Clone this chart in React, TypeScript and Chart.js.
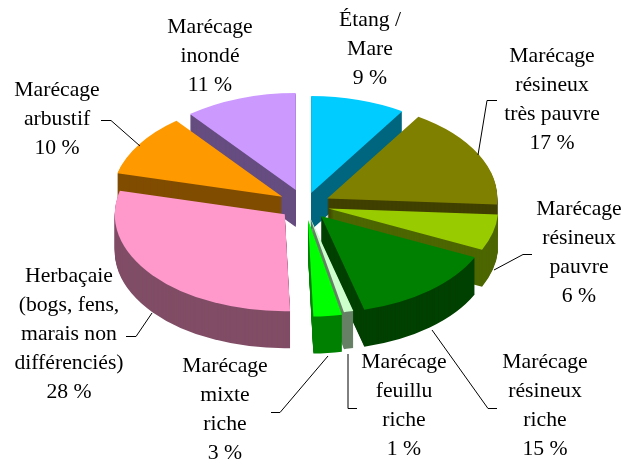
import { useEffect, useRef } from "react";
import { Chart, registerables } from "chart.js";

Chart.register(...registerables);

const categories = [
  "Étang / Mare",
  "Marécage résineux très pauvre",
  "Marécage résineux pauvre",
  "Marécage résineux riche",
  "Marécage feuillu riche",
  "Marécage mixte riche",
  "Herbaçaie (bogs, fens, marais non différenciés)",
  "Marécage arbustif",
  "Marécage inondé",
];
const sliceValues = [9, 17, 6, 13.9, 0.9, 2.7, 29.4, 10.4, 10.7];
const explode = [22, 25, 24, 25, 22, 26, 26, 27, 28];
const topColors = ["#00CCFF", "#808000", "#99CC00", "#008000", "#CCFFCC", "#00FF00", "#FF99CC", "#FF9900", "#CC99FF"];
const sideColors = ["#00667F", "#404000", "#4D6600", "#004000", "#668066", "#008000", "#804D66", "#804D00", "#664D80"];
const paintOrder = [0, 8, 7, 1, 2, 6, 3, 4, 5];

const labelBlocks: { x: number; y: number; lines: string[] }[] = [
  { x: 370, y: 20, lines: ["Étang /", "Mare", "9 %"] },
  { x: 552, y: 56, lines: ["Marécage", "résineux", "très pauvre", "17 %"] },
  { x: 579, y: 209, lines: ["Marécage", "résineux", "pauvre", "6 %"] },
  { x: 545, y: 362, lines: ["Marécage", "résineux", "riche", "15 %"] },
  { x: 404, y: 362, lines: ["Marécage", "feuillu", "riche", "1 %"] },
  { x: 225, y: 366, lines: ["Marécage", "mixte", "riche", "3 %"] },
  { x: 69, y: 276, lines: ["Herbaçaie", "(bogs, fens,", "marais non", "différenciés)", "28 %"] },
  { x: 57, y: 90, lines: ["Marécage", "arbustif", "10 %"] },
  { x: 210, y: 27, lines: ["Marécage", "inondé", "11 %"] },
];
const leaders: number[][][] = [
  [[478, 155], [487, 100.5], [497, 100.5]],
  [[494, 270], [523, 254.5], [532, 254.5]],
  [[432, 330], [488, 408.5], [497, 408.5]],
  [[348, 354], [348, 408.5], [357, 408.5]],
  [[328, 356], [280, 412.5], [271, 412.5]],
  [[152, 313], [136, 336.5], [126, 336.5]],
  [[140, 146], [111, 120.5], [101, 120.5]],
];

const TILT = 0.57;
const DEPTH = 37;

const pie3d = {
  id: "pie3d",
  beforeDatasetsDraw(chart: any) {
    const { ctx } = chart;
    const arcs = chart.getDatasetMeta(0).data;
    const cx = arcs[0].x;
    const cy = arcs[0].y;
    const drawAs = (el: any, color: string) => {
      const view = Object.create(el, {
        options: { value: { ...el.options, backgroundColor: color, borderWidth: 0, offset: 0 }, writable: true },
      });
      el.draw.call(view, ctx);
    };
    paintOrder.forEach((i) => {
      const el = arcs[i];
      const mid = (el.startAngle + el.endAngle) / 2;
      const ox = Math.cos(mid) * explode[i];
      const oy = Math.sin(mid) * explode[i];
      for (let k = DEPTH; k >= 0; k--) {
        ctx.save();
        ctx.translate(cx, cy + k);
        ctx.scale(1, TILT);
        ctx.translate(-cx + ox, -cy + oy);
        drawAs(el, k === 0 ? topColors[i] : sideColors[i]);
        ctx.restore();
      }
    });
    return false;
  },
  afterDraw(chart: any) {
    const { ctx } = chart;
    ctx.save();
    ctx.strokeStyle = "#000";
    ctx.lineWidth = 1;
    leaders.forEach((pts) => {
      ctx.beginPath();
      pts.forEach(([x, y], i) => (i ? ctx.lineTo(x, y) : ctx.moveTo(x, y)));
      ctx.stroke();
    });
    ctx.fillStyle = "#000";
    ctx.font = '21.7px "Liberation Serif"';
    ctx.textAlign = "center";
    ctx.textBaseline = "middle";
    labelBlocks.forEach((b) => {
      b.lines.forEach((t, i) => ctx.fillText(t, b.x, b.y + i * 29.2));
    });
    ctx.restore();
  },
};

export default function App() {
  const ref = useRef<HTMLCanvasElement>(null);
  useEffect(() => {
    const chart = new Chart(ref.current!, {
      type: "pie",
      data: {
        labels: categories,
        datasets: [
          {
            data: sliceValues,
            backgroundColor: topColors,
            borderWidth: 0,
          },
        ],
      },
      options: {
        animation: false,
        responsive: false,
        radius: 170,
        layout: { padding: { right: 24, bottom: 55 } },
        plugins: { legend: { display: false }, tooltip: { enabled: false }, title: { display: false } },
      },
      plugins: [pie3d],
    } as any);
    return () => chart.destroy();
  }, []);
  return (
    <div style={{ position: "fixed", left: 0, top: 0, width: 634, height: 465, background: "#fff" }}>
      <canvas ref={ref} width={634} height={465} style={{ display: "block" }} />
    </div>
  );
}
